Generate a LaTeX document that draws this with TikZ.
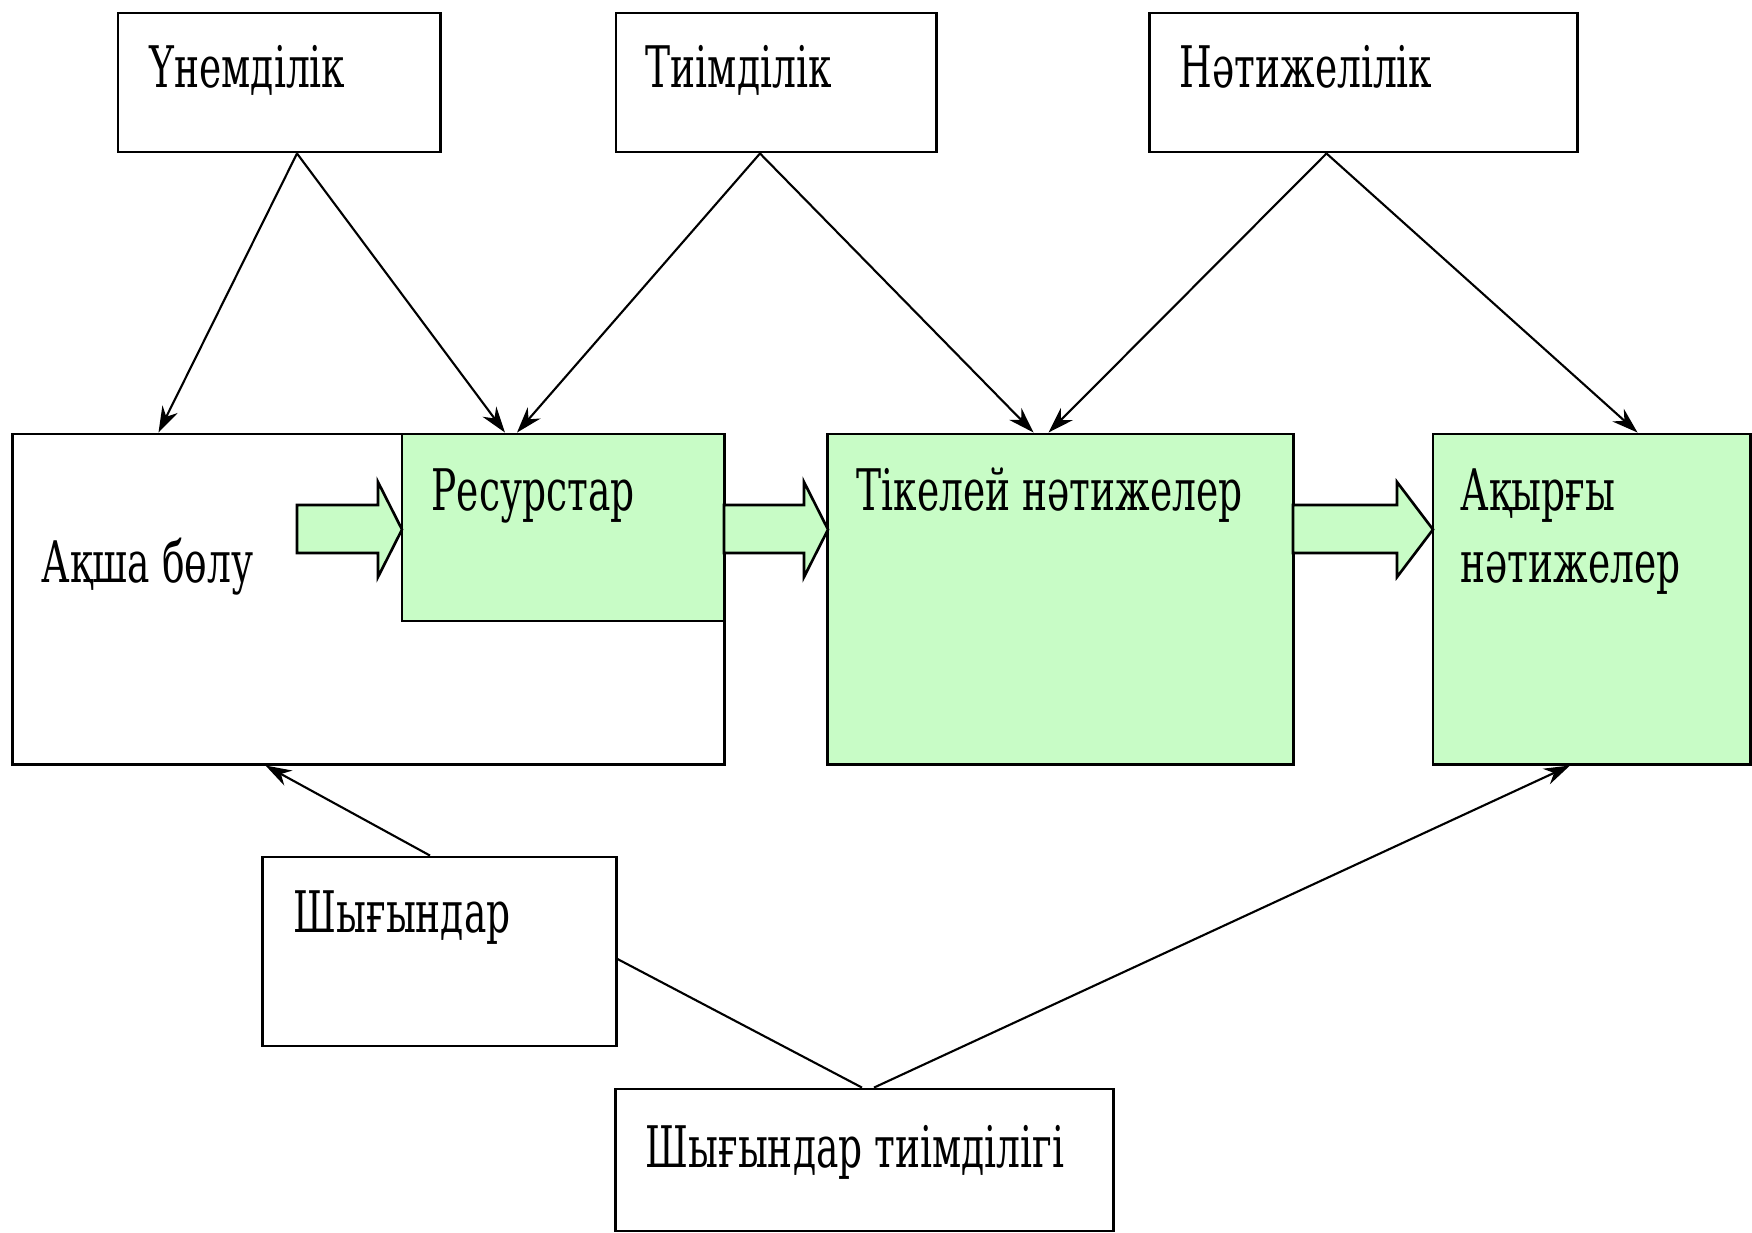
\documentclass[tikz,border=0pt]{standalone}
\usepackage{fontspec}
\setmainfont{DejaVu Serif}[FakeStretch=0.655]
\usetikzlibrary{calc,arrows.meta}
\definecolor{palegreen}{RGB}{200,252,198}

\begin{document}
\begin{tikzpicture}[x=0.01cm,y=-0.01cm,
  box/.style={draw,line width=0.8pt,inner sep=0pt},
  txt/.style={anchor=base west,inner sep=0pt,align=left,
    font=\fontsize{16.3}{20.4}\selectfont},
  conn/.style={line width=0.6pt,-{Stealth[length=2.6mm,width=1.7mm]}},
  fat/.style={draw,fill=palegreen,line width=0.75pt}]
\useasboundingbox[fill=white] (0,0) rectangle (1752,1232);
% top row
\node[box,minimum width=3.22cm,minimum height=1.39cm] (unem) at (279,82.5) {};
\node[box,minimum width=3.20cm,minimum height=1.39cm] (tiim) at (776,82.5) {};
\node[box,minimum width=4.27cm,minimum height=1.39cm] (natij) at (1363.5,82.5) {};
% middle row
\node[box,fill=white,minimum width=7.11cm,minimum height=3.30cm] (aksha) at (368.5,599) {};
\node[box,fill=palegreen,minimum width=3.22cm,minimum height=1.87cm] (res) at (563,527.5) {};
\node[box,fill=palegreen,minimum width=4.65cm,minimum height=3.30cm] (tikel) at (1060.5,599) {};
\node[box,fill=palegreen,minimum width=3.17cm,minimum height=3.30cm] (akyr) at (1591.5,599) {};
% bottom row
\node[box,minimum width=3.53cm,minimum height=1.89cm] (shyg) at (439.5,951.5) {};
\node[box,minimum width=4.97cm,minimum height=1.42cm] (shtiim) at (864.5,1160) {};
% fat arrows
\foreach \a/\b/\c in {297/378/402, 724/804/828, 1293/1397/1433}
  \draw[fat] (\a,505) -- (\b,505) -- (\b,482) -- (\c,529.5) --
    (\b,577) -- (\b,553) -- (\a,553) -- cycle;
% texts
\node[txt] (unemtxt) at (149,87) {Үнемділік};
\node[txt] (tiimtxt) at (645,87) {Тиімділік};
\node[txt] (natijtxt) at (1179,87) {Нәтижелілік};
\node[txt] (akshatxt) at (41,582) {Ақша бөлу};
\node[txt] (restxt) at (431,510) {Ресурстар};
\node[txt] (tikeltxt) at (856,510) {Тікелей нәтижелер};
\node[txt] (akyrtxt) at (1460,582) {Ақырғы\\нәтижелер};
\node[txt] (shygtxt) at (293,932) {Шығындар};
\node[txt] (shtiimtxt) at (645,1167) {Шығындар тиімділігі};
% connectors
\draw[conn] ($(unem.south)+(18,0)$) -- ($(aksha.north)+(-210,0)$);
\draw[conn] ($(unem.south)+(18,0)$) -- ($(res.north)+(-58,0)$);
\draw[conn] ($(tiim.south)+(-16,0)$) -- ($(res.north)+(-46,0)$);
\draw[conn] ($(tiim.south)+(-16,0)$) -- ($(tikel.north)+(-27,0)$);
\draw[conn] ($(natij.south)+(-37,0)$) -- ($(tikel.north)+(-12,0)$);
\draw[conn] ($(natij.south)+(-37,0)$) -- ($(akyr.north)+(46,0)$);
\draw[conn] ($(shyg.north)+(-9.5,0)$) -- ($(aksha.south)+(-103,0)$);
\draw[line width=0.6pt] ($(shyg.east)+(0,7.5)$) -- ($(shtiim.north)+(-2.5,0)$);
\draw[conn] ($(shtiim.north)+(9.5,0)$) -- ($(akyr.south)+(-21.5,0)$);
\end{tikzpicture}
\end{document}
